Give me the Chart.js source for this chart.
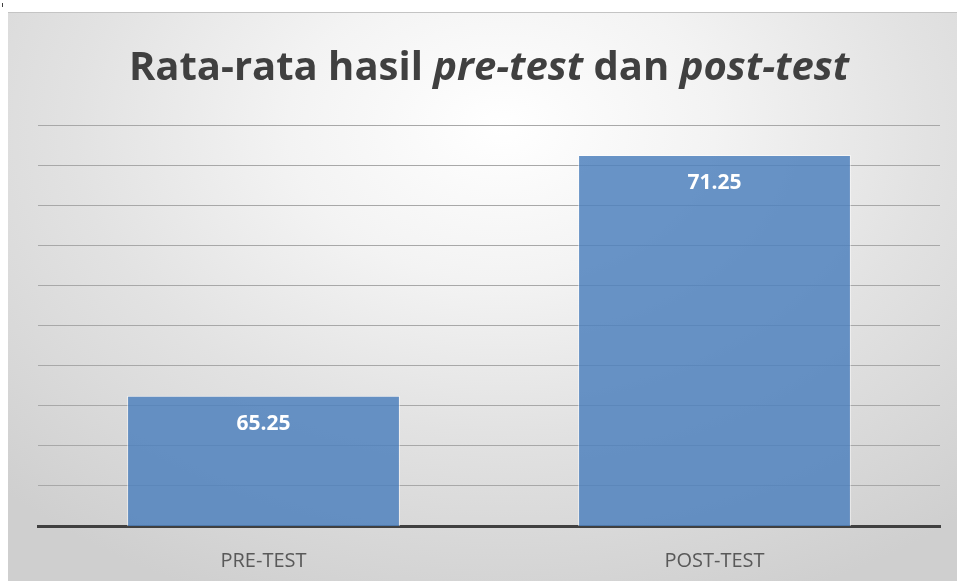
<!DOCTYPE html>
<html>
<head>
<meta charset="utf-8">
<script src="https://cdn.jsdelivr.net/npm/chart.js@4.4.1/dist/chart.umd.min.js"></script>
<style>
  html, body { margin: 0; padding: 0; background: #ffffff; overflow: hidden; }
  #frame {
    position: absolute; left: 8px; top: 12px; width: 949px; height: 569px;
    border-top: 1px solid #c4c4c4; box-sizing: border-box;
    background: radial-gradient(ellipse 75% 90% at 52% 20%, #ffffff 0%, #f3f3f3 30%, #e2e2e2 60%, #cfcfcf 100%);
  }
  #title {
    position: absolute; left: 30px; width: 902px; top: 28px; margin: 0;
    text-align: center; font-family: "Open Sans", sans-serif; font-weight: 700;
    font-size: 40px; color: #404040; line-height: 1.2;
  }
  #chart { position: absolute; left: 0; top: 0; }
  .tick { position: absolute; left: 2px; top: 3px; width: 1px; height: 4px; background: #404040; }
</style>
</head>
<body>
<div class="tick"></div>
<div id="frame">
  <canvas id="chart" width="949" height="586"></canvas>
  <h1 id="title">Rata-rata hasil <i>pre-test</i> dan <i>post-test</i></h1>
</div>
<script>
const categories = ['PRE-TEST', 'POST-TEST'];
const averages = [65.25, 71.25];
const axisMin = 62;
const axisMax = 72;

// draw the value inside the top end of each bar
const valueLabels = {
  id: 'valueLabels',
  afterDatasetsDraw(chart) {
    const ctx = chart.ctx;
    const meta = chart.getDatasetMeta(0);
    ctx.save();
    ctx.font = 'bold 21px "Open Sans", sans-serif';
    ctx.fillStyle = '#ffffff';
    ctx.textAlign = 'center';
    ctx.textBaseline = 'middle';
    meta.data.forEach((bar, i) => {
      ctx.fillText(averages[i].toFixed(2), bar.x, bar.y + 28);
    });
    ctx.restore();
  }
};

const ctx = document.getElementById('chart').getContext('2d');
const myChart = new Chart(ctx, {
  type: 'bar',
  data: {
    labels: categories,
    datasets: [{
      data: averages,
      backgroundColor: 'rgba(79, 129, 189, 0.85)',
      borderColor: 'rgba(255, 255, 255, 0.55)',
      borderWidth: 1,
      categoryPercentage: 0.605,
      barPercentage: 1.0
    }]
  },
  options: {
    responsive: false,
    devicePixelRatio: 1,
    animation: false,
    layout: { padding: { left: 30, right: 17, top: 112, bottom: 3 } },
    plugins: {
      legend: { display: false },
      title: { display: false },
      tooltip: { enabled: false }
    },
    scales: {
      x: {
        grid: { display: false, drawTicks: false },
        border: { display: true, color: '#404040', width: 3 },
        ticks: {
          color: '#595959',
          padding: 23,
          font: { family: '"Open Sans", sans-serif', size: 20 }
        }
      },
      y: {
        min: axisMin,
        max: axisMax,
        ticks: { display: false, stepSize: 1 },
        border: { display: false },
        grid: {
          drawTicks: false,
          color: (c) => c.tick && c.tick.value === axisMin ? 'rgba(0,0,0,0)' : '#a8a8a8',
          lineWidth: 1
        }
      }
    }
  },
  plugins: [valueLabels]
});
</script>
</body>
</html>
